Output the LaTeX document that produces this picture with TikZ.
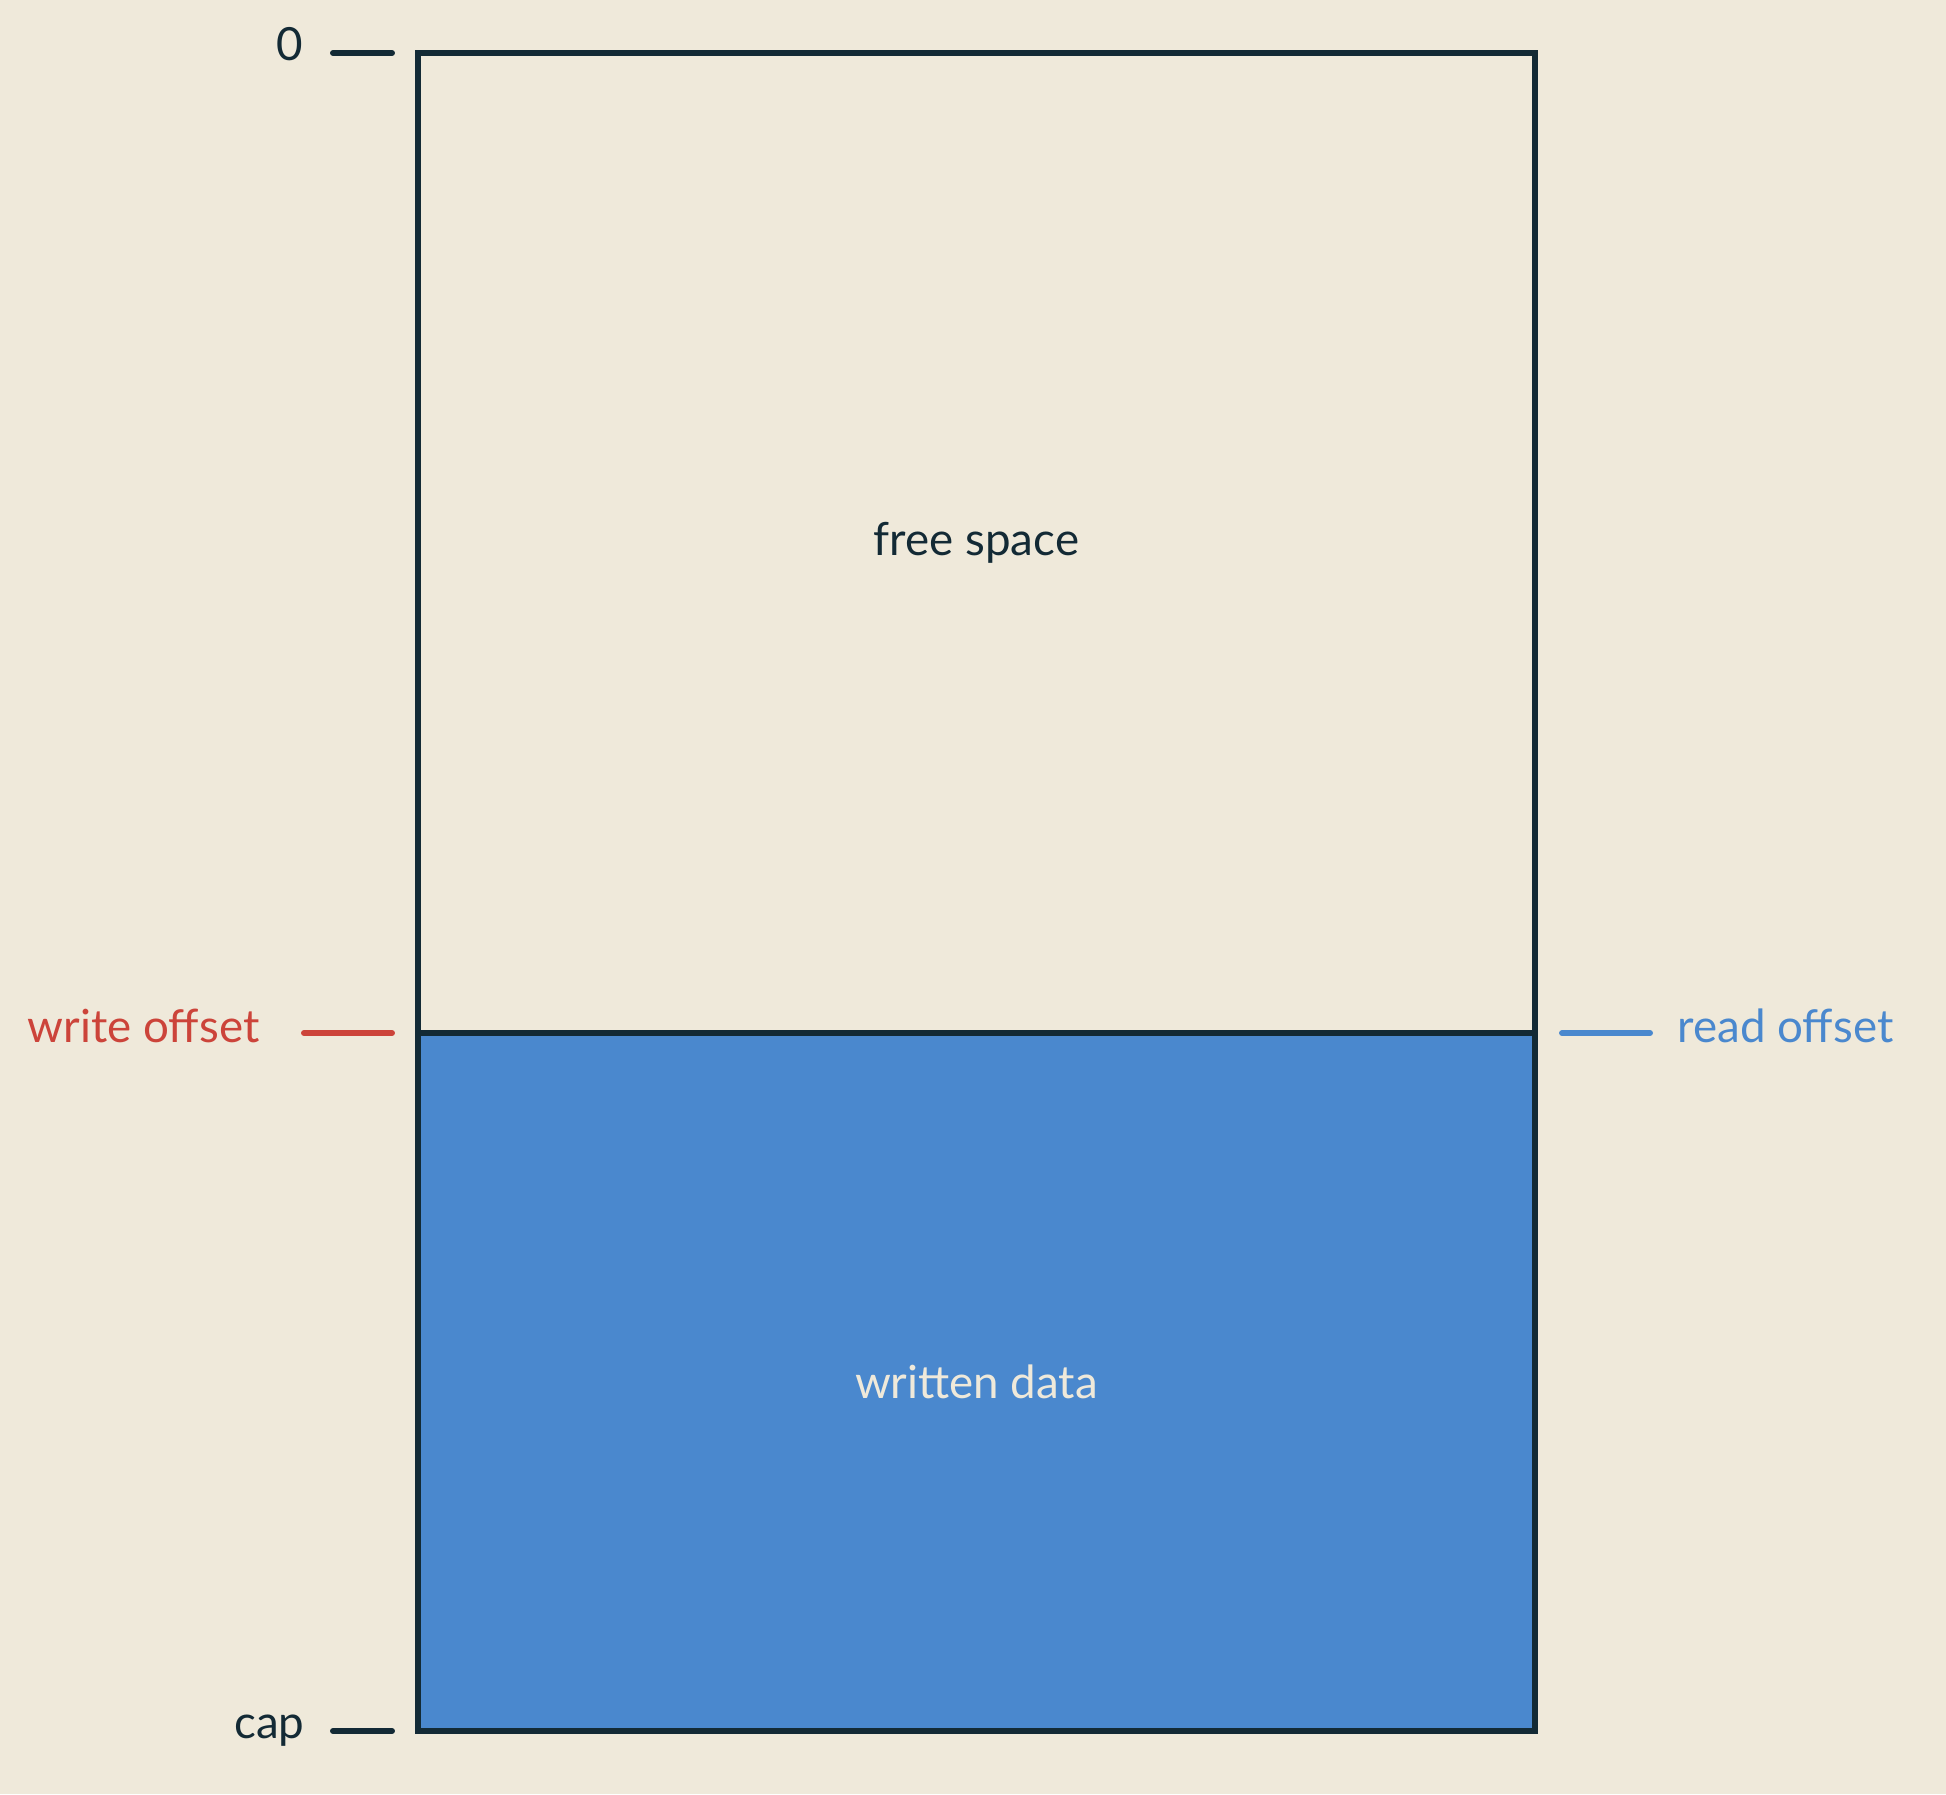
\documentclass[tikz,border=0pt]{standalone}
\usepackage{fontspec}
\setmainfont{Lato}
\usepackage{tikz}

\definecolor{paper}{RGB}{239,233,218}
\definecolor{ink}{RGB}{19,42,53}
\definecolor{fillblue}{RGB}{74,136,206}
\definecolor{markred}{RGB}{204,68,58}

\begin{document}
\begin{tikzpicture}[
        font=\fontsize{13}{15}\selectfont,
        region/.style={draw=ink, line width=1.6pt, inner sep=0pt, outer sep=0pt, minimum width=11.17cm},
        tick/.style={line width=1.7pt, line cap=round},
        lbl/.style={inner sep=0pt}
    ]
        \fill[paper] (0,0) rectangle (19.46,-17.94);
        \useasboundingbox (0,0) rectangle (19.46,-17.94);

        % the buffer
        \node[region, minimum height=9.8cm, text=ink] (free) at (9.765,-5.43) {free space};
        \node[region, minimum height=6.98cm, fill=fillblue, text=paper, anchor=north] (data) at (free.south) {written data};
        \draw[ink, line width=1.6pt] (free.south west) -- (free.south east);

        % marks on the left
        \coordinate (zeroA) at (3.33,-0.53);
        \coordinate (zeroB) at (3.92,-0.53);
        \coordinate (writeA) at (3.04,-10.33);
        \coordinate (writeB) at (3.92,-10.33);
        \coordinate (capA) at (3.33,-17.31);
        \coordinate (capB) at (3.92,-17.31);
        \draw[tick, ink] (zeroA) -- (zeroB);
        \draw[tick, markred] (writeA) -- (writeB);
        \draw[tick, ink] (capA) -- (capB);

        % mark on the right
        \coordinate (readA) at (15.62,-10.33);
        \coordinate (readB) at (16.50,-10.33);
        \draw[tick, fillblue] (readA) -- (readB);

        \node[lbl, anchor=base east, text=ink] (zero) at (3.04,-0.60) {0};
        \node[lbl, anchor=base east, text=markred] (write) at (2.60,-10.42) {write offset};
        \node[lbl, anchor=base west, text=fillblue] (read) at (16.77,-10.42) {read offset};
        \node[lbl, anchor=base east, text=ink] (cap) at (3.05,-17.38) {cap};
    \end{tikzpicture}
\end{document}
